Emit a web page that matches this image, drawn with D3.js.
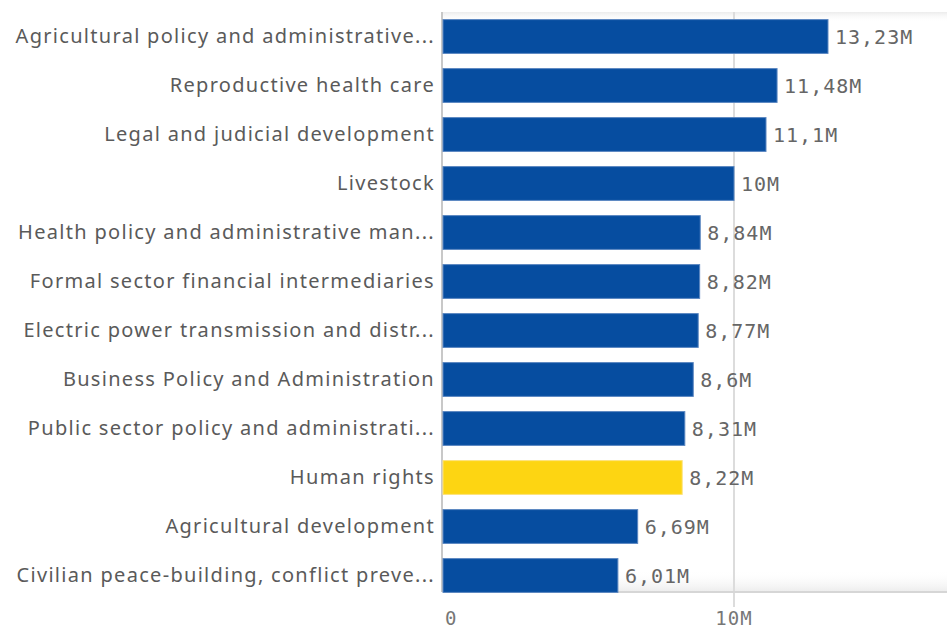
<!DOCTYPE html>
<html>
<head>
<meta charset="utf-8">
<script src="https://cdn.jsdelivr.net/npm/d3@7"></script>
<style>
  body { margin: 0; background: #fff; }
  svg { display: block; }
</style>
</head>
<body>
<svg width="947" height="632"></svg>
<script>
const categories = [
  "Agricultural policy and administrative...",
  "Reproductive health care",
  "Legal and judicial development",
  "Livestock",
  "Health policy and administrative man...",
  "Formal sector financial intermediaries",
  "Electric power transmission and distr...",
  "Business Policy and Administration",
  "Public sector policy and administrati...",
  "Human rights",
  "Agricultural development",
  "Civilian peace-building, conflict preve..."
];
const values = [13.23, 11.48, 11.1, 10, 8.84, 8.82, 8.77, 8.6, 8.31, 8.22, 6.69, 6.01];
const valueLabels = ["13,23M", "11,48M", "11,1M", "10M", "8,84M", "8,82M", "8,77M", "8,6M", "8,31M", "8,22M", "6,69M", "6,01M"];
const highlight = "Human rights";
const ticks = [0, 10];
const tickLabels = ["0", "10M"];

const data = categories.map((c, i) => ({ name: c, value: values[i], label: valueLabels[i] }));

const svg = d3.select("svg");
const plotLeft = 443, plotRight = 947, plotTop = 12, plotBottom = 592;

const x = d3.scaleLinear().domain([0, 17.32]).range([plotLeft, plotRight]);
const y = d3.scaleBand().domain(categories).range([plotTop, 600]).paddingInner(0.31).paddingOuter(0.155);

const defs = svg.append("defs");
const gTop = defs.append("linearGradient").attr("id", "gtop").attr("x1", 0).attr("x2", 0).attr("y1", 0).attr("y2", 1);
gTop.append("stop").attr("offset", 0).attr("stop-color", "#ececec");
gTop.append("stop").attr("offset", 1).attr("stop-color", "#fff").attr("stop-opacity", 0);
const gBot = defs.append("linearGradient").attr("id", "gbot").attr("x1", 0).attr("x2", 0).attr("y1", 1).attr("y2", 0);
gBot.append("stop").attr("offset", 0).attr("stop-color", "#ececec");
gBot.append("stop").attr("offset", 1).attr("stop-color", "#fff").attr("stop-opacity", 0);

svg.append("rect").attr("x", plotLeft).attr("y", plotTop).attr("width", plotRight - plotLeft).attr("height", 10).attr("fill", "url(#gtop)");
svg.append("rect").attr("x", plotLeft).attr("y", plotBottom - 22).attr("width", plotRight - plotLeft).attr("height", 22).attr("fill", "url(#gbot)");

// gridlines
svg.selectAll(".grid")
  .data(ticks.slice(1))
  .enter().append("line")
  .attr("x1", d => x(d)).attr("x2", d => x(d))
  .attr("y1", plotTop).attr("y2", 607)
  .attr("stroke", "#dcdcdc").attr("stroke-width", 2);

// baseline
svg.append("line")
  .attr("x1", plotLeft).attr("x2", plotRight)
  .attr("y1", plotBottom).attr("y2", plotBottom)
  .attr("stroke", "#d6d6d6").attr("stroke-width", 2);

// left axis line
svg.append("line")
  .attr("x1", plotLeft - 1).attr("x2", plotLeft - 1)
  .attr("y1", plotTop).attr("y2", plotBottom)
  .attr("stroke", "#c8c8c8").attr("stroke-width", 2);

svg.selectAll(".bar")
  .data(data)
  .enter().append("rect")
  .attr("class", "bar")
  .attr("x", x(0))
  .attr("y", d => y(d.name))
  .attr("width", d => x(d.value) - x(0))
  .attr("height", y.bandwidth())
  .attr("fill", d => d.name === highlight ? "#fdd512" : "#064da0")
  .attr("stroke", d => d.name === highlight ? "#fde27a" : "#5a86c0")
  .attr("stroke-width", 1);

svg.selectAll(".val")
  .data(data)
  .enter().append("text")
  .attr("x", d => x(d.value) + 7)
  .attr("y", d => y(d.name) + y.bandwidth() / 2)
  .attr("dy", "0.36em")
  .attr("font-family", "DejaVu Sans Mono, monospace")
  .attr("font-size", 20)
  .attr("letter-spacing", 1)
  .attr("fill", "#666")
  .text(d => d.label);

svg.selectAll(".cat")
  .data(data)
  .enter().append("text")
  .attr("x", 435)
  .attr("y", d => y(d.name) + y.bandwidth() / 2)
  .attr("dy", "0.33em")
  .attr("text-anchor", "end")
  .attr("font-family", "Noto Sans, sans-serif")
  .attr("font-size", 20)
  .attr("letter-spacing", 1.3)
  .attr("fill", "#5a5a5a")
  .text(d => d.name);

svg.selectAll(".tick")
  .data(ticks)
  .enter().append("text")
  .attr("x", (d, i) => i === 0 ? x(d) + 2 : x(d))
  .attr("y", 625)
  .attr("text-anchor", (d, i) => i === 0 ? "start" : "middle")
  .attr("font-family", "DejaVu Sans Mono, monospace")
  .attr("font-size", 19)
  .attr("letter-spacing", 1)
  .attr("fill", "#777")
  .text((d, i) => tickLabels[i]);
</script>
</body>
</html>
